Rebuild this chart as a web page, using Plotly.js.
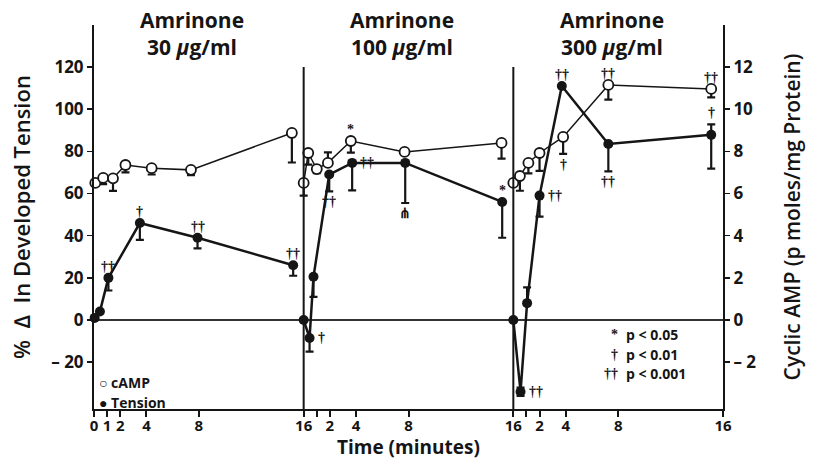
<!DOCTYPE html>
<html><head><meta charset="utf-8">
<script src="https://cdn.plot.ly/plotly-3.0.1.min.js"></script>
<style>body{margin:0;background:#fff}</style>
</head><body>
<div id="chart" style="width:818px;height:462px"></div>
<script>
// ---- data (time in minutes within each dose period) ----
const doses = ['30', '100', '300'];
const panelTicks = [1, 2, 4, 8, 16];

// Amrinone 30 ug/ml
const camp30_t  = [0.1, 0.7, 1.45, 2.4, 4.4, 7.4, 15.1];
const camp30_v  = [6.5, 6.74, 6.72, 7.35, 7.2, 7.12, 8.87];
const camp30_lo = [0, 0.3, 0.6, 0.35, 0.3, 0.25, 1.4];
const camp30_hi = [0, 0, 0, 0, 0, 0, 0];
const tens30_t  = [0.05, 0.45, 1.1, 3.5, 7.9, 15.2];
const tens30_v  = [1, 4, 20, 46, 39, 26];
const tens30_lo = [0, 0, 6, 8, 5, 5];
const tens30_hi = [0, 0, 0, 0, 0, 0];

// Amrinone 100 ug/ml
const camp100_t  = [0, 0.35, 1.0, 1.85, 3.6, 7.7, 15.1];
const camp100_v  = [6.5, 7.92, 7.16, 7.45, 8.49, 7.97, 8.4];
const camp100_lo = [0.6, 0.55, 0.2, 0, 0.55, 0, 0.75];
const camp100_hi = [0, 0, 0, 0.5, 0, 0, 0];
const tens100_t  = [0, 0.45, 0.75, 1.95, 3.7, 7.75, 15.15];
const tens100_v  = [0, -8.5, 20.5, 69, 74.5, 74.5, 56];
const tens100_lo = [0, 6.5, 9.5, 8, 13, 19, 17];
const tens100_hi = [0, 0, 0, 0, 0, 0, 0];

// Amrinone 300 ug/ml
const camp300_t  = [0, 0.5, 1.15, 2.0, 3.8, 7.25, 15.1];
const camp300_v  = [6.5, 6.83, 7.45, 7.92, 8.68, 11.15, 10.96];
const camp300_lo = [0, 0.7, 0.5, 0.85, 0.8, 0.7, 0.4];
const camp300_hi = [0, 0, 0, 0, 0, 0, 0];
const tens300_t  = [0, 0.55, 1.05, 2.0, 3.7, 7.25, 15.1];
const tens300_v  = [0, -34, 8, 59, 111, 83.5, 87.8];
const tens300_lo = [0, 2, 0, 10, 0, 13, 16];
const tens300_hi = [0, 2, 7.5, 0, 0, 0, 5];

// significance marks: panel, series, point index, symbol, placement
const sigPanel  = [0,0,0,0, 1,1,1,1,1,1, 2,2,2,2,2,2,2,2];
const sigSeries = ['tens','tens','tens','tens', 'tens','tens','tens','tens','camp','tens',
                   'tens','tens','tens','camp','camp','tens','camp','tens'];
const sigIndex  = [2,3,4,5, 1,3,4,5,4,6, 1,3,4,4,5,5,6,6];
const sigSymbol = ['††','†','††','††', '†','††','††','⋔','*','*',
                   '††','††','††','†','††','††','††','†'];
const sigPlace  = ['above','above','above','above', 'right','below','right','below','above','above',
                   'right','right','above','below','above','below','above','above'];

const leftTicks  = [-20, 0, 20, 40, 60, 80, 100, 120];
const rightTicks = [-2, 0, 2, 4, 6, 8, 10, 12];

// ---- build ----
const panelLen = 16;
const data = {
  camp: { t:[camp30_t,camp100_t,camp300_t], v:[camp30_v,camp100_v,camp300_v],
          lo:[camp30_lo,camp100_lo,camp300_lo], hi:[camp30_hi,camp100_hi,camp300_hi] },
  tens: { t:[tens30_t,tens100_t,tens300_t], v:[tens30_v,tens100_v,tens300_v],
          lo:[tens30_lo,tens100_lo,tens300_lo], hi:[tens30_hi,tens100_hi,tens300_hi] }
};
const INK = '#151515';
const traces = [];
['tens','camp'].forEach(s => {
  for (let p = 0; p < 3; p++) {
    const d = data[s];
    const off = p * panelLen;
    const isC = s === 'camp';
    traces.push({
      type: 'scatter', mode: 'lines+markers',
      x: d.t[p].map(t => t + off), y: d.v[p],
      yaxis: isC ? 'y2' : 'y',
      line: { color: INK, width: isC ? 1.5 : 2.5 },
      marker: isC ? { symbol: 'circle', size: 10, color: '#fff', line: { color: INK, width: 1.8 } }
                  : { symbol: 'circle', size: 10, color: INK, line: { color: INK, width: 0 } },
      error_y: { type: 'data', symmetric: false, array: d.hi[p], arrayminus: d.lo[p],
                 color: INK, thickness: 2.2, width: 4 },
      cliponaxis: false, hoverinfo: 'skip', showlegend: false
    });
  }
});

const tickvals = [0], ticktext = ['0'];
for (let p = 0; p < 3; p++) {
  panelTicks.forEach(t => {
    tickvals.push(p * panelLen + t);
    ticktext.push((p > 0 && t === 1) ? '' : String(t));
  });
}

const bold = (size, fam) => ({ family: fam || 'Open Sans, sans-serif', size: size, color: INK, weight: 'bold' });
const SYM = 'Liberation Serif, serif';

const annotations = [];
doses.forEach((d, p) => {
  annotations.push({
    xref: 'x', yref: 'paper', x: p * panelLen + 7.5, y: 0.977, yanchor: 'middle',
    text: 'Amrinone<br>' + d + ' <i>μ</i>g/ml', showarrow: false, font: bold(21), align: 'center'
  });
});
sigPanel.forEach((p, k) => {
  const s = sigSeries[k], i = sigIndex[k], d = data[s];
  const isC = s === 'camp';
  const a = { xref: 'x', yref: isC ? 'y2' : 'y', x: p * panelLen + d.t[p][i], y: d.v[p][i],
              text: sigSymbol[k], showarrow: false, font: bold(14, SYM),
              xanchor: 'center', yanchor: 'middle' };
  if (sigPlace[k] === 'above') { a.y = d.v[p][i] + d.hi[p][i]; a.yanchor = 'bottom'; a.yshift = 2; }
  if (sigPlace[k] === 'below') { a.y = d.v[p][i] - d.lo[p][i]; a.yanchor = 'top'; a.yshift = -1; }
  if (sigPlace[k] === 'right') { a.xanchor = 'left'; a.xshift = 6; }
  annotations.push(a);
});
// series key
annotations.push({ xref:'paper', yref:'paper', x:0.004, y:0.068, xanchor:'left', yanchor:'middle',
  text:'○ cAMP', showarrow:false, font: bold(14) });
annotations.push({ xref:'paper', yref:'paper', x:0.004, y:0.016, xanchor:'left', yanchor:'middle',
  text:'● Tension', showarrow:false, font: bold(14) });
// significance key
const pSym = ['*', '†', '††'], pTxt = ['p &lt; 0.05', 'p &lt; 0.01', 'p &lt; 0.001'];
pSym.forEach((s, k) => {
  const y = 0.193 - k * 0.05;
  annotations.push({ xref:'paper', yref:'paper', x:0.837, y:y, xanchor:'right', yanchor:'middle',
    text:s, showarrow:false, font: bold(14, SYM) });
  annotations.push({ xref:'paper', yref:'paper', x:0.842, y:y, xanchor:'left', yanchor:'middle',
    text:pTxt[k], showarrow:false, font: bold(14) });
});
// x axis title
annotations.push({ xref:'paper', yref:'paper', x:0.5, y:-0.1385, xanchor:'center', yanchor:'bottom',
  text:'Time (minutes)', showarrow:false, font: bold(19) });

const shapes = [1, 2].map(p => ({
  type:'line', xref:'x', yref:'y', x0:p*panelLen, x1:p*panelLen, y0:-42.2, y1:120,
  line:{ color: INK, width: 2 }
}));

const layout = {
  width: 818, height: 462,
  margin: { l: 94, r: 95, t: 25, b: 53, pad: 0 },
  paper_bgcolor: '#fff', plot_bgcolor: '#fff',
  showlegend: false,
  xaxis: {
    range: [0, 48], showgrid: false, zeroline: false,
    showline: true, linecolor: INK, linewidth: 2,
    ticks: 'outside', ticklen: 6, tickwidth: 2, tickcolor: INK,
    tickvals: tickvals, ticktext: ticktext, tickangle: 0,
    ticklabelstandoff: -4,
    tickfont: bold(15)
  },
  yaxis: {
    range: [-42.2, 139.9], showgrid: false,
    zeroline: true, zerolinecolor: '#333', zerolinewidth: 1.3,
    showline: true, linecolor: INK, linewidth: 2,
    ticks: 'outside', ticklen: 5, tickwidth: 1.5, tickcolor: INK,
    tickvals: leftTicks, ticktext: leftTicks.map(v => v < 0 ? '– ' + (-v) : String(v)),
    tickfont: bold(17),
    title: { text: '%  ∆  In Developed Tension', font: { family:'Open Sans, sans-serif', size: 22, color: INK, weight: 600 }, standoff: 15 }
  },
  yaxis2: {
    overlaying: 'y', side: 'right', anchor: 'x',
    range: [-4.22, 13.99], showgrid: false, zeroline: false,
    showline: true, linecolor: INK, linewidth: 2,
    ticks: 'outside', ticklen: 5, tickwidth: 1.5, tickcolor: INK,
    tickvals: rightTicks, ticktext: rightTicks.map(v => v < 0 ? '– ' + (-v) : String(v)),
    tickfont: bold(17),
    title: { text: 'Cyclic AMP (p moles/mg Protein)', font: { family:'Open Sans, sans-serif', size: 21, color: INK, weight: 600 }, standoff: 30 }
  },
  annotations: annotations,
  shapes: shapes
};

Plotly.newPlot('chart', traces, layout, { displayModeBar: false, staticPlot: true });
</script>
</body></html>
